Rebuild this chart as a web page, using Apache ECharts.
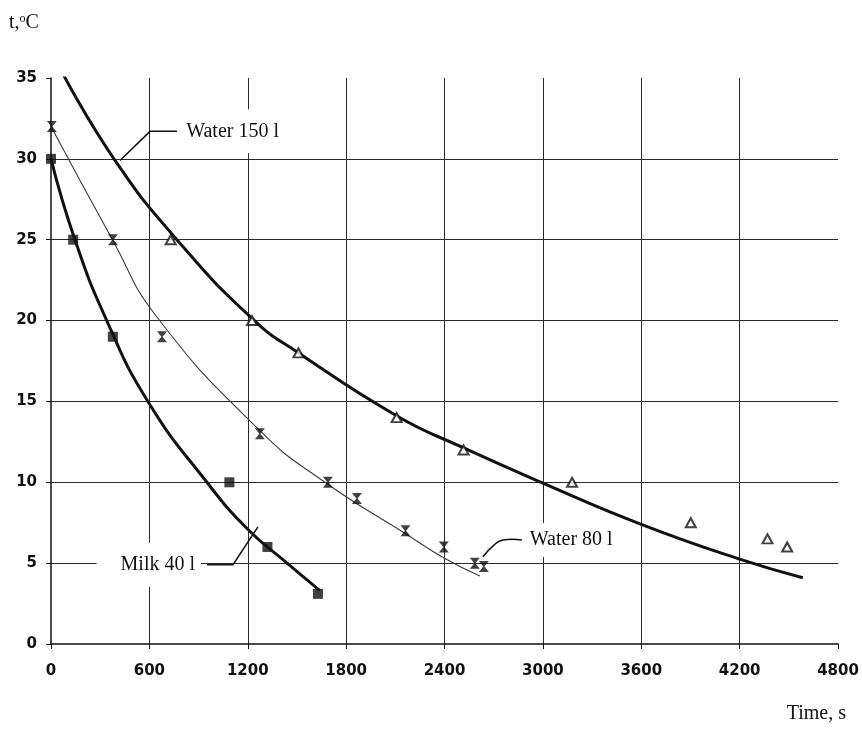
<!DOCTYPE html>
<html>
<head>
<meta charset="utf-8">
<script src="https://cdn.jsdelivr.net/npm/echarts@6/dist/echarts.min.js"></script>
<style>
html,body{margin:0;padding:0;background:#fff;}
#c{width:862px;height:729px;}
</style>
</head>
<body>
<div id="c"></div>
<script>
// ---- data ----
const xTicks = [0, 600, 1200, 1800, 2400, 3000, 3600, 4200, 4800];
const yTicks = [0, 5, 10, 15, 20, 25, 30, 35];

// measured points
const milkTime = [0, 135, 377, 1088, 1320, 1628];
const milkTemp = [30, 25, 19, 10, 6, 3.1];
const w80Time = [5, 378, 677, 1274, 1689, 1866, 2162, 2396, 2585, 2640];
const w80Temp = [32, 25, 19, 13, 10, 9, 7, 6, 5, 4.8];
const w150Time = [730, 1226, 1509, 2108, 2516, 3178, 3902, 4370, 4490];
const w150Temp = [25, 20, 18, 14, 12, 10, 7.5, 6.5, 6];

// fitted curves
const milkFitTime = [0, 146, 340, 591, 951, 1200, 1440, 1640];
const milkFitTemp = [30, 25, 20, 15, 10, 7.1, 5, 3.3];
const w80FitTime = [0, 375, 640, 1274, 1671, 2165, 2400, 2616];
const w80FitTemp = [32, 25, 20.3, 13.2, 10, 6.8, 5.3, 4.2];
const w150FitTime = [71, 384, 768, 1240, 1510, 2110, 2500, 3000, 3600, 4200, 4585];
const w150FitTemp = [35.3, 30, 25, 20, 18, 14.1, 12.2, 9.95, 7.4, 5.25, 4.1];

const zip = (a, b) => a.map((v, i) => [v, b[i]]);

const chart = echarts.init(document.getElementById('c'), null, {renderer: 'canvas'});

const hourglass = 'path://M0,0L10,0L5.6,5L10,10L0,10L4.4,5Z';

const option = {
  backgroundColor: '#fff',
  animation: false,
  grid: {left: 51, right: 24, top: 78, bottom: 85, containLabel: false},
  xAxis: {
    type: 'value', min: 0, max: 4800, interval: 600,
    axisLine: {show: true, onZero: false, lineStyle: {color: '#111', width: 1.5}},
    axisTick: {show: true, length: 5, lineStyle: {color: '#111', width: 1}},
    axisLabel: {color: '#111', fontFamily: 'DejaVu Sans', fontWeight: 'bold', fontSize: 15, margin: 20,
      formatter: v => String(v)},
    splitLine: {show: true, showMinLine: false, showMaxLine: false, lineStyle: {color: '#2a2a2a', width: 1}}
  },
  yAxis: {
    type: 'value', min: 0, max: 35, interval: 5,
    axisLine: {show: true, onZero: false, lineStyle: {color: '#111', width: 1.5}},
    axisTick: {show: true, length: 5, lineStyle: {color: '#111', width: 1}},
    axisLabel: {color: '#111', fontFamily: 'DejaVu Sans', fontWeight: 'bold', fontSize: 15, margin: 14},
    splitLine: {show: true, showMinLine: false, showMaxLine: false, lineStyle: {color: '#2a2a2a', width: 1}}
  },
  series: [
    {type: 'line', name: 'Milk fit', data: zip(milkFitTime, milkFitTemp), smooth: 0.5, showSymbol: false,
      lineStyle: {color: '#111', width: 3}, z: 3},
    {type: 'line', name: 'Water 80 fit', data: zip(w80FitTime, w80FitTemp), smooth: 0.5, showSymbol: false,
      lineStyle: {color: '#3a3a3a', width: 1.1}, z: 3},
    {type: 'line', name: 'Water 150 fit', data: zip(w150FitTime, w150FitTemp), smooth: 0.5, showSymbol: false,
      lineStyle: {color: '#111', width: 3}, z: 3},
    {type: 'scatter', name: 'Milk 40 l', data: zip(milkTime, milkTemp), symbol: 'rect', symbolSize: 10,
      itemStyle: {color: '#111'}, z: 5},
    {type: 'scatter', name: 'Water 80 l', data: zip(w80Time, w80Temp), symbol: hourglass, symbolSize: [10, 11],
      itemStyle: {color: '#111'}, z: 5},
    {type: 'scatter', name: 'Water 150 l', data: zip(w150Time, w150Temp), symbol: 'triangle', symbolSize: [10, 9],
      itemStyle: {color: '#fff', borderColor: '#111', borderWidth: 2}, z: 5}
  ]
};
chart.setOption(option);

// annotations: label text + leader lines anchored in data units
const annotations = [
  {text: 'Water 150 l', leader: [[421, 29.9], [604, 31.7], [768, 31.7]], at: [800, 31.7], align: 'left', pad: [12, 4, 12, 4]},
  {text: 'Water 80 l', leader: [[2634, 5.4], [2700, 6.1], [2756, 6.43], [2872, 6.43]], at: [2902, 6.43], align: 'left', pad: [7, 3, 7, 3]},
  {text: 'Milk 40 l', leader: [[1262, 7.24], [1110, 4.9], [951, 4.9]], at: [915, 4.9], align: 'right', pad: [12, 6, 12, 24]}
];
const px = p => chart.convertToPixel({gridIndex: 0}, p);

const graphics = [];
annotations.forEach(a => {
  const pts = a.leader.map(px);
  graphics.push({type: 'polyline', shape: {points: pts, smooth: a.text === 'Water 80 l' ? 0.5 : 0},
    style: {stroke: '#111', lineWidth: 1.5, fill: null}, z: 20});
  const p = px(a.at);
  graphics.push({type: 'text', x: p[0], y: p[1], z: 19,
    style: {text: a.text, font: '20px "Liberation Serif"', fill: '#111', align: a.align, verticalAlign: 'middle',
      backgroundColor: '#fff', padding: a.pad}});
});
// axis titles
graphics.push({type: 'text', left: 9, top: 13, z: 20,
  style: {text: '{a|t,}{b|o}{a|C}', rich: {
    a: {font: '20px "Liberation Serif"', fill: '#111', verticalAlign: 'bottom'},
    b: {font: '12px "Liberation Serif"', fill: '#111', verticalAlign: 'top', padding: [0, 0, 8, 0]}
  }}});
graphics.push({type: 'text', right: 16, top: 704, z: 20,
  style: {text: 'Time, s', font: '20px "Liberation Serif"', fill: '#111'}});

chart.setOption({graphic: graphics});
</script>
</body>
</html>
